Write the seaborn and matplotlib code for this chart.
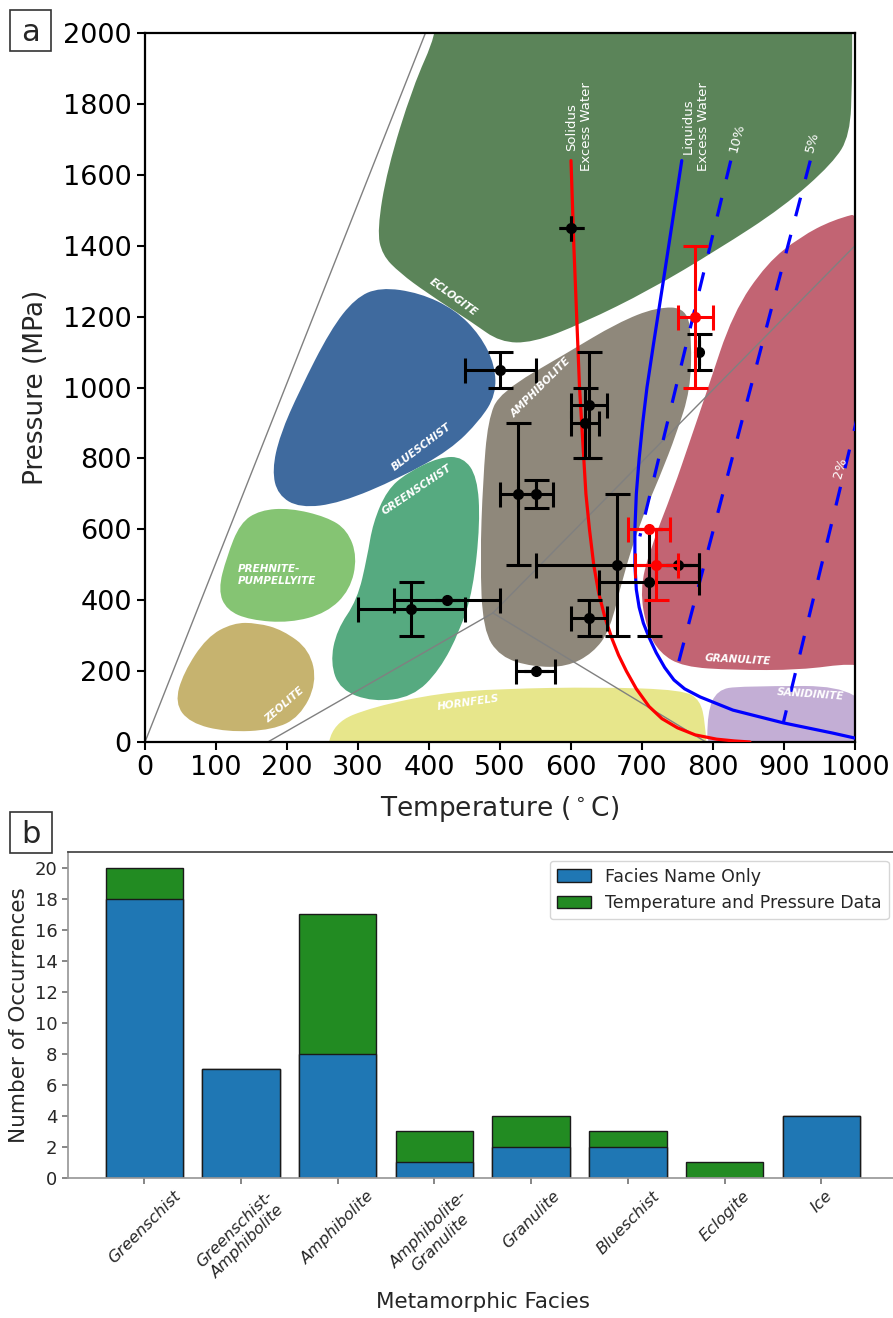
import numpy as np
import matplotlib
matplotlib.use("Agg")
import matplotlib.pyplot as plt
from matplotlib.path import Path
from matplotlib.patches import PathPatch, Rectangle
import seaborn as sns

sns.set_theme(style="ticks")
plt.rcParams["font.family"] = ["DejaVu Sans"]

# ---------------- panel a: facies fields (T in C, P in MPa) ----------------
eclogite_T = [411, 411, 377, 341, 327, 334, 359, 397, 462, 500, 546, 617, 711, 806, 899, 969, 993, 996, 996, 996]
eclogite_P = [2100, 2000, 1848, 1614, 1444, 1374, 1323, 1267, 1182, 1128, 1126, 1182, 1275, 1388, 1509, 1633, 1712, 1867, 2000, 2100]

blueschist_T = [331, 387, 437, 472, 493, 494, 472, 430, 359, 275, 218, 187, 179, 190, 218, 261, 296]
blueschist_P = [1283, 1267, 1219, 1148, 1063, 979, 908, 824, 745, 674, 660, 697, 767, 866, 993, 1162, 1252]

greenschist_T = [415, 448, 468, 472, 462, 444, 415, 377, 321, 275, 261, 270, 299, 313, 321, 341, 369]
greenschist_P = [804, 804, 748, 618, 429, 316, 203, 127, 113, 147, 223, 316, 401, 522, 618, 711, 759]

prehnite_T = [162, 134, 115, 103, 115, 148, 204, 256, 289, 299, 285, 256, 204]
prehnite_P = [654, 618, 522, 429, 372, 344, 336, 364, 429, 522, 598, 635, 660]

zeolite_T = [124, 87, 54, 42, 63, 115, 180, 218, 242, 232, 194, 158]
zeolite_P = [336, 296, 195, 110, 54, 28, 34, 71, 166, 260, 316, 336]

hornfels_T = [254, 265, 321, 415, 500, 641, 758, 782, 789, 792, 792, 254]
hornfels_P = [-50, 54, 99, 138, 150, 155, 147, 118, 54, -50, -90, -90]

amphibolite_T = [500, 594, 665, 721, 763, 770, 768, 749, 725, 697, 673, 655, 631, 594, 546, 500, 476, 472, 476, 483]
amphibolite_P = [987, 1097, 1182, 1227, 1224, 1134, 993, 872, 748, 618, 465, 316, 251, 212, 212, 240, 316, 513, 739, 908]

granulite_T = [792, 828, 876, 923, 969, 1021, 1021, 997, 923, 828, 758, 725, 707, 697, 711, 744, 768]
granulite_P = [993, 1210, 1351, 1425, 1473, 1500, 203, 223, 203, 203, 212, 251, 316, 429, 542, 711, 852]

sanidinite_T = [792, 792, 806, 838, 1021, 1021]
sanidinite_P = [-50, 85, 147, 158, 158, -50]

# melting curves
solidus_T = [600, 604, 608, 612, 615, 618, 621, 626, 632, 639, 648, 658, 667, 678, 692, 710, 728, 750, 775, 805, 830, 852]
solidus_P = [1640, 1400, 1200, 1000, 900, 800, 700, 600, 500, 420, 350, 290, 245, 200, 150, 100, 66, 40, 20, 8, 3, 0]
liquidus_T = [756, 743, 730, 716, 707, 701, 696, 692, 690, 690, 692, 696, 702, 710, 720, 732, 745, 760, 782, 828, 899, 969, 1000]
liquidus_P = [1640, 1470, 1300, 1120, 1000, 900, 800, 700, 600, 500, 430, 380, 335, 295, 252, 210, 175, 150, 127, 90, 54, 25, 11]
water10_T = [825, 697]
water10_P = [1640, 580]
water5_T = [937, 745]
water5_P = [1640, 175]
water2_T = [1005, 899]
water2_P = [930, 54]

# grey facies boundaries
bound_lines = [([0, 395], [0, 2000]),
               ([173, 490], [0, 364]),
               ([490, 1000], [364, 1400]),
               ([490, 790], [364, 0])]

# sample estimates
black_T = [600, 500, 625, 620, 525, 550, 665, 710, 750, 625, 550, 780, 375, 425]
black_P = [1450, 1050, 950, 900, 700, 700, 500, 450, 500, 350, 200, 1100, 375, 400]
black_Terr = [0, 50, 25, 20, 25, 25, 115, 70, 30, 25, 27, 0, 75, 75]
black_Perr = [0, 50, 150, 100, 200, 40, 200, 150, 0, 50, 0, 50, 75, 0]
red_T = [775, 710, 720]
red_P = [1200, 600, 500]
red_Terr = [25, 30, 30]
red_Perr = [200, 0, 100]

# ---------------- panel b: counts ----------------
facies = ["Greenschist", "Greenschist-\nAmphibolite", "Amphibolite", "Amphibolite-\nGranulite",
          "Granulite", "Blueschist", "Eclogite", "Ice"]
name_only = [18, 7, 8, 1, 2, 2, 0, 4]
tp_data = [2, 0, 9, 2, 2, 1, 1, 0]


def blob(ax, T, P, color):
    # smooth closed outline: quadratic curves through edge midpoints
    pts = np.column_stack([T, P]).astype(float)
    mids = (pts + np.roll(pts, -1, axis=0)) / 2
    verts = [mids[-1]]
    codes = [Path.MOVETO]
    for p, m in zip(pts, mids):
        verts += [p, m]
        codes += [Path.CURVE3, Path.CURVE3]
    ax.add_patch(PathPatch(Path(verts, codes), facecolor=color, edgecolor="none", zorder=1))


fig = plt.figure(figsize=(8.93, 13.18), dpi=100)
ax = fig.add_axes([145 / 893, 1 - 742 / 1318, 710 / 893, 709 / 1318])

blob(ax, eclogite_T, eclogite_P, "#5b8459")
blob(ax, blueschist_T, blueschist_P, "#3f6a9e")
blob(ax, greenschist_T, greenschist_P, "#56aa80")
blob(ax, prehnite_T, prehnite_P, "#85c473")
blob(ax, zeolite_T, zeolite_P, "#c6b36f")
blob(ax, hornfels_T, hornfels_P, "#e7e68b")
blob(ax, amphibolite_T, amphibolite_P, "#8f887b")
blob(ax, granulite_T, granulite_P, "#c26473")
blob(ax, sanidinite_T, sanidinite_P, "#c3aed5")

for bx, by in bound_lines:
    sns.lineplot(x=bx, y=by, sort=False, estimator=None, color="#808080", lw=1, ax=ax, zorder=2)

sns.lineplot(x=solidus_T, y=solidus_P, sort=False, estimator=None, color="red", lw=2.3, ax=ax, zorder=3)
sns.lineplot(x=liquidus_T, y=liquidus_P, sort=False, estimator=None, color="blue", lw=2.3, ax=ax, zorder=3)
for wx, wy in [(water10_T, water10_P), (water5_T, water5_P), (water2_T, water2_P)]:
    sns.lineplot(x=wx, y=wy, sort=False, estimator=None, color="blue", lw=2.3,
                 linestyle=(0, (6, 6)), ax=ax, zorder=3)

ax.errorbar(black_T, black_P, xerr=black_Terr, yerr=black_Perr, fmt="o", color="black",
            ms=7, elinewidth=2.2, capsize=9, capthick=2.2, zorder=4)
ax.errorbar(red_T, red_P, xerr=red_Terr, yerr=red_Perr, fmt="o", color="red",
            ms=7, elinewidth=2.2, capsize=9, capthick=2.2, zorder=5)

lab = dict(color="white", fontsize=7.5, fontweight="bold", fontstyle="italic",
           ha="center", va="center", rotation_mode="anchor", zorder=6)
ax.text(434, 1255, "ECLOGITE", rotation=-36, **lab)
ax.text(389, 832, "BLUESCHIST", rotation=37, **lab)
ax.text(383, 711, "GREENSCHIST", rotation=34, **lab)
ax.text(558, 1001, "AMPHIBOLITE", rotation=45, **lab)
ax.text(196, 104, "ZEOLITE", rotation=41, **lab)
ax.text(455, 112, "HORNFELS", rotation=8, **lab)
ax.text(835, 231, "GRANULITE", rotation=-3, **lab)
ax.text(937, 135, "SANIDINITE", rotation=-4, **lab)
ax.text(130, 471, "PREHNITE-\nPUMPELLYITE", color="white", fontsize=7.5, fontweight="bold",
        fontstyle="italic", ha="left", va="center", linespacing=1.3, zorder=6)

cl = dict(color="white", fontsize=9.5, ha="center", va="bottom", zorder=6)
ax.text(611, 1610, "Solidus\nExcess Water", rotation=90, **cl)
ax.text(776, 1612, "Liquidus\nExcess Water", rotation=90, **cl)
ax.text(834, 1660, "10%", rotation=75, **cl)
ax.text(940, 1660, "5%", rotation=75, **cl)
ax.text(980, 740, "2%", rotation=75, **cl)

ax.set_xlim(0, 1000)
ax.set_ylim(0, 2000)
ax.set_xticks(np.arange(0, 1001, 100))
ax.set_yticks(np.arange(0, 2001, 200))
ax.set_xlabel("Temperature ($^\\circ$C)", fontsize=19, labelpad=9)
ax.set_ylabel("Pressure (MPa)", fontsize=19, labelpad=10)
ax.tick_params(labelsize=19.5, length=6, width=1.5, color="black", labelcolor="black")
for s in ax.spines.values():
    s.set_visible(True)
    s.set_color("black")
    s.set_linewidth(1.6)

# ---------------- panel b ----------------
axb = fig.add_axes([68 / 893, 1 - 1178 / 1318, 829.6 / 893, 326 / 1318])
totals = [a + b for a, b in zip(name_only, tp_data)]
sns.barplot(x=facies, y=totals, color="#228b22", saturation=1, edgecolor="#1a1a1a",
            linewidth=1, errorbar=None, label="Temperature and Pressure Data", ax=axb)
sns.barplot(x=facies, y=name_only, color="#1f77b4", saturation=1, edgecolor="#1a1a1a",
            linewidth=1, errorbar=None, label="Facies Name Only", ax=axb)
axb.set_xlim(-0.79, 7.79)
axb.set_ylim(0, 21)
axb.set_yticks(np.arange(0, 21, 2))
axb.set_xticks(range(len(facies)))
axb.set_xticklabels(facies, rotation=45, fontstyle="italic", fontsize=11.5)
axb.tick_params(axis="y", labelsize=13, length=4, color="#777777")
axb.tick_params(axis="x", length=4, color="#777777")
axb.set_xlabel("Metamorphic Facies", fontsize=15.5, labelpad=6)
axb.set_ylabel("Number of Occurrences", fontsize=15.5)
for name in ["left", "bottom"]:
    axb.spines[name].set_color("#999999")
axb.spines["top"].set_color("#444444")
axb.spines["right"].set_visible(False)
h, l = axb.get_legend_handles_labels()
axb.legend(h[::-1], l[::-1], loc="upper right", fontsize=12.5, frameon=True)

# panel letters
for (x0, y0, w, hgt), letter in [((10, 10, 41, 41), "a"), ((10, 812, 42, 41), "b")]:
    fig.add_artist(Rectangle((x0 / 893, 1 - (y0 + hgt) / 1318), w / 893, hgt / 1318,
                             transform=fig.transFigure, fc="white", ec="#333333", lw=1.2))
    fig.text((x0 + w / 2) / 893, 1 - (y0 + hgt / 2 + 2) / 1318, letter, fontsize=22,
             ha="center", va="center")

fig.savefig("out.png", dpi=100)
